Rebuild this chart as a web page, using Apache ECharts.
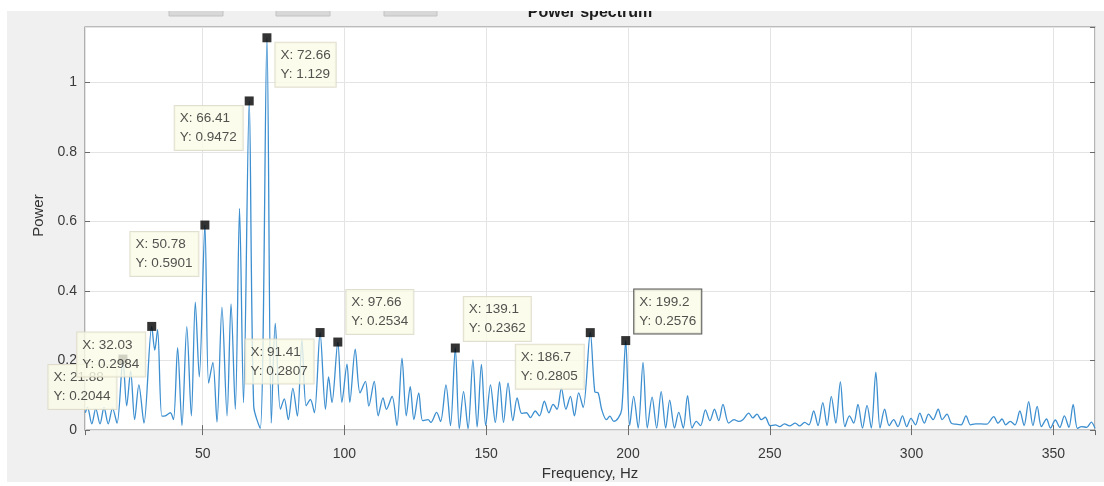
<!DOCTYPE html>
<html>
<head>
<meta charset="utf-8">
<title>Power spectrum</title>
<script src="https://cdn.jsdelivr.net/npm/echarts@6/dist/echarts.min.js"></script>
<style>
  html, body { margin: 0; padding: 0; background: #f0f0f0; }
  #chart { width: 1104px; height: 486px; }
</style>
</head>
<body>
<div id="chart"></div>
<script>
// Spectrum peaks and troughs: frequency (Hz) and power
const freqHz = [
  8.6, 9.4, 10.9, 12.3, 13.8, 15.2, 16.7, 18.2, 19.8, 21.88,
  23.2, 24.6, 26.0, 27.5, 29.3, 32.03, 33.1, 34.1, 35.6, 36.8,
  38.6, 39.7, 41.16, 42.7, 44.4, 46.0, 47.4, 48.8, 50.78, 52.1,
  53.6, 55.05, 56.8, 58.6, 60.0, 61.5, 63.0, 64.4, 66.41, 68.0,
  70.3, 72.66, 74.2, 75.6, 77.4, 78.8, 80.2, 81.8, 83.4, 85.0,
  86.5, 88.0, 89.4, 91.41, 93.3, 94.4, 95.6, 97.66, 99.1, 100.9,
  101.9, 103.8, 105.5, 107.4, 108.6, 110.5, 111.9, 113.6, 114.8, 116.8,
  118.5, 120.3, 121.8, 123.2, 124.5, 126.2, 127.6, 129.5, 130.5, 132.5,
  133.9, 135.8, 137.4, 139.1, 140.5, 142.0, 143.6, 145.3, 146.8, 148.3,
  149.8, 151.5, 153.2, 154.7, 156.1, 157.7, 159.4, 160.9, 162.5, 164.2,
  165.6, 167.3, 168.8, 170.5, 172.1, 173.6, 175.0, 176.5, 178.1, 179.7,
  181.1, 182.6, 184.2, 186.7, 188.3, 189.5, 190.7, 192.4, 193.6, 195.0,
  196.6, 197.8, 199.2, 200.6, 202.0, 203.6, 205.3, 206.8, 208.5, 210.1,
  211.7, 213.3, 214.7, 216.4, 217.9, 219.5, 221.0, 222.6, 224.1, 225.6,
  227.3, 228.9, 230.5, 232.0, 233.5, 235.5, 237.4, 239.0, 240.5, 242.6,
  244.0, 245.5, 247.0, 248.4, 250.2, 252.0, 253.5, 255.2, 257.0, 259.0,
  260.5, 262.3, 263.8, 265.5, 267.0, 268.7, 270.2, 271.7, 273.3, 274.9,
  276.5, 278.1, 279.6, 281.1, 282.7, 284.3, 285.8, 287.4, 288.9, 290.5,
  292.1, 293.7, 295.2, 296.8, 298.3, 299.8, 301.4, 302.9, 304.5, 306.0,
  307.6, 309.4, 310.8, 312.5, 314.0, 315.6, 317.5, 319.2, 320.8, 322.5,
  324.5, 326.5, 329.0, 330.5, 331.9, 333.2, 334.8, 336.5, 338.2, 339.7,
  341.3, 342.8, 344.3, 345.8, 347.6, 349.0, 350.7, 352.3, 353.9, 355.5,
  357.0, 358.5, 360.0, 361.8, 363.4, 364.7
];
const power = [
  0.05, 0.065, 0.018, 0.062, 0.018, 0.065, 0.018, 0.063, 0.02, 0.2044,
  0.07, 0.17, 0.03, 0.13, 0.02, 0.2984, 0.23, 0.289, 0.04, 0.041,
  0.05, 0.03, 0.237, 0.013, 0.298, 0.041, 0.368, 0.153, 0.5901, 0.135,
  0.195, 0.023, 0.354, 0.041, 0.363, 0.06, 0.638, 0.079, 0.9472, 0.069,
  0.005, 1.129, 0.02, 0.307, 0.06, 0.09, 0.03, 0.12, 0.04, 0.26,
  0.07, 0.088, 0.05, 0.2807, 0.06, 0.153, 0.079, 0.2534, 0.08, 0.19,
  0.08, 0.233, 0.107, 0.14, 0.069, 0.14, 0.041, 0.093, 0.06, 0.097,
  0.013, 0.207, 0.041, 0.125, 0.03, 0.107, 0.027, 0.03, 0.022, 0.051,
  0.025, 0.13, 0.013, 0.2362, 0.004, 0.111, 0.004, 0.202, 0.009, 0.189,
  0.013, 0.13, 0.022, 0.139, 0.022, 0.135, 0.027, 0.093, 0.048, 0.05,
  0.036, 0.055, 0.041, 0.083, 0.05, 0.074, 0.06, 0.121, 0.06, 0.097,
  0.041, 0.107, 0.065, 0.2805, 0.11, 0.107, 0.06, 0.03, 0.04, 0.025,
  0.035, 0.06, 0.2576, 0.013, 0.097, 0.006, 0.195, 0.006, 0.095, 0.006,
  0.111, 0.006, 0.086, 0.006, 0.051, 0.006, 0.099, 0.006, 0.025, 0.013,
  0.058, 0.027, 0.06, 0.027, 0.074, 0.02, 0.03, 0.025, 0.03, 0.049,
  0.035, 0.046, 0.03, 0.037, 0.012, 0.015, 0.01, 0.018, 0.012, 0.02,
  0.012, 0.022, 0.015, 0.055, 0.013, 0.079, 0.013, 0.097, 0.02, 0.139,
  0.01, 0.041, 0.02, 0.074, 0.006, 0.071, 0.006, 0.167, 0.006, 0.06,
  0.013, 0.03, 0.01, 0.041, 0.01, 0.034, 0.015, 0.049, 0.02, 0.046,
  0.03, 0.06, 0.03, 0.046, 0.02, 0.017, 0.015, 0.041, 0.015, 0.018,
  0.018, 0.017, 0.039, 0.02, 0.032, 0.015, 0.025, 0.015, 0.055, 0.013,
  0.082, 0.013, 0.068, 0.01, 0.032, 0.006, 0.029, 0.008, 0.041, 0.008,
  0.074, 0.005, 0.01, 0.008, 0.023, 0.005
];

// Marked peaks (data tips)
const tipFreq  = [21.88, 32.03, 50.78, 66.41, 72.66, 91.41, 97.66, 139.1, 186.7, 199.2];
const tipPower = [0.2044, 0.2984, 0.5901, 0.9472, 1.129, 0.2807, 0.2534, 0.2362, 0.2805, 0.2576];

// Where each tip box sits relative to its marker: side and vertical gap
const tipPlacement = [
  ['left', 6], ['left', 6], ['left', 7], ['left', 5], ['right', 5],
  ['left', 7], ['above', 8], ['above', 7], ['left', 12], ['above', 7]
];
const selectedTip = 9;

const FONT = '"Liberation Sans", Arial, Helvetica, sans-serif';
const X_MIN = 8.5, X_MAX = 364.7, Y_MAX = 1.16;
const MARK = 9;
const TIP_TEXT_W = 58, TIP_PAD_X = 5;

function tipLabel(i) {
  const [side, gap] = tipPlacement[i];
  const h = MARK / 2;
  if (side === 'left') {
    // fixed-width box placed to the left of the marker, text stays left-aligned
    return {
      width: TIP_TEXT_W,
      position: [-2 - TIP_TEXT_W - 2 * TIP_PAD_X, h + gap],
      align: 'left', verticalAlign: 'top'
    };
  }
  if (side === 'right') {
    return { position: [MARK + 4, h + gap], align: 'left', verticalAlign: 'top' };
  }
  return { position: [MARK + 4, h - gap], align: 'left', verticalAlign: 'bottom' };
}

const spectrum = freqHz.map((f, i) => [f, power[i]]);
const tips = tipFreq.map((f, i) => {
  const lab = tipLabel(i);
  if (i === selectedTip) {
    lab.borderColor = '#2b2b2b';
  }
  return { value: [f, tipPower[i]], label: lab };
});

const chart = echarts.init(document.getElementById('chart'), null, { renderer: 'canvas' });

const axisColor = '#6a6a6a';
const labelColor = '#3a3a3a';

chart.setOption({
  backgroundColor: '#f0f0f0',
  animation: false,
  textStyle: { fontFamily: FONT },
  grid: {
    left: 85, right: 9, top: 27, bottom: 44.5,
    show: true, backgroundColor: '#ffffff',
    borderColor: '#858585', borderWidth: 1.2
  },
  xAxis: [{
    type: 'value', min: X_MIN, max: X_MAX, splitNumber: 7, position: 'bottom',
    axisLine: { show: false },
    axisTick: { inside: true, length: 5, lineStyle: { color: axisColor } },
    axisLabel: {
      margin: 17, fontSize: 14, color: labelColor, fontFamily: FONT,
      showMinLabel: false, showMaxLabel: false
    },
    splitLine: { show: true, lineStyle: { color: '#e4e4e4', width: 1 } },
    name: 'Frequency, Hz', nameLocation: 'middle', nameGap: 28,
    nameTextStyle: { fontSize: 15, color: '#333333', fontFamily: FONT }
  }, {
    type: 'value', min: X_MIN, max: X_MAX, splitNumber: 7, position: 'top',
    axisLine: { show: false },
    axisTick: { inside: true, length: 5, lineStyle: { color: axisColor } },
    axisLabel: { show: false },
    splitLine: { show: false }
  }],
  yAxis: [{
    type: 'value', min: 0, max: Y_MAX, interval: 0.2, position: 'left',
    axisLine: { show: false },
    axisTick: { inside: true, length: 5, lineStyle: { color: axisColor } },
    axisLabel: {
      margin: 8, fontSize: 14, color: labelColor, fontFamily: FONT,
      showMaxLabel: false
    },
    splitLine: { show: true, lineStyle: { color: '#e4e4e4', width: 1 } },
    name: 'Power', nameLocation: 'middle', nameGap: 32,
    nameTextStyle: { fontSize: 15, color: '#333333', fontFamily: FONT, padding: [0, 0, 0, 26] }
  }, {
    type: 'value', min: 0, max: Y_MAX, interval: 0.2, position: 'right',
    axisLine: { show: false },
    axisTick: { inside: true, length: 5, lineStyle: { color: axisColor } },
    axisLabel: { show: false },
    splitLine: { show: false }
  }],
  series: [{
    type: 'line',
    data: spectrum,
    showSymbol: false,
    smooth: 0.3,
    clip: true,
    lineStyle: { color: '#3d8fd0', width: 1.3 },
    z: 2
  }, {
    type: 'scatter',
    data: tips,
    symbol: 'rect',
    symbolSize: MARK,
    itemStyle: { color: '#000000' },
    z: 3,
    label: {
      show: true,
      formatter: p => 'X: ' + p.value[0] + '\nY: ' + p.value[1],
      fontFamily: FONT,
      fontSize: 13.5,
      lineHeight: 19,
      color: '#262626',
      backgroundColor: '#fbfbe9',
      borderColor: '#d9d7c3',
      borderWidth: 1,
      padding: [3, TIP_PAD_X, 3, TIP_PAD_X]
    }
  }],
  graphic: [
    { type: 'rect', z: 50, shape: { x: 169, y: 7, width: 54, height: 9 },
      style: { fill: '#d8d8d8', stroke: '#c2c2c2', lineWidth: 1 } },
    { type: 'rect', z: 50, shape: { x: 276, y: 7, width: 54, height: 9 },
      style: { fill: '#d8d8d8', stroke: '#c2c2c2', lineWidth: 1 } },
    { type: 'rect', z: 50, shape: { x: 384, y: 7, width: 53, height: 9 },
      style: { fill: '#d8d8d8', stroke: '#c2c2c2', lineWidth: 1 } },
    { type: 'text', z: 50, x: 590, y: 13,
      style: { text: 'Power spectrum', font: 'bold 16px ' + FONT, fill: '#1c1c1c',
               textAlign: 'center', textVerticalAlign: 'middle' } },
    { type: 'rect', z: 100, shape: { x: 0, y: 0, width: 1104, height: 11 },
      style: { fill: '#ffffff' } },
    { type: 'rect', z: 100, shape: { x: 0, y: 0, width: 7, height: 486 },
      style: { fill: '#ffffff' } },
    { type: 'rect', z: 100, shape: { x: 0, y: 482, width: 1104, height: 4 },
      style: { fill: '#ffffff' } }
  ]
});
</script>
</body>
</html>
